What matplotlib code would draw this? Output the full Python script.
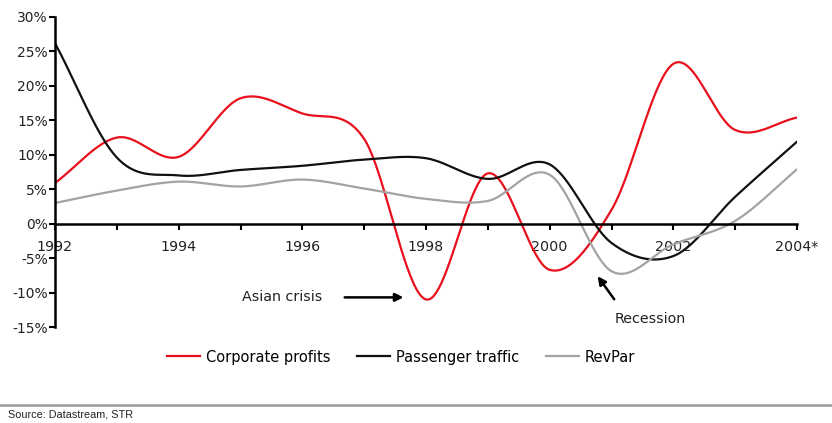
import numpy as np
import matplotlib.pyplot as plt

years = [1992, 1993, 1994, 1995, 1996, 1997, 1998, 1999, 2000, 2001, 2002, 2003, 2004]
corporate_profits = [5.9, 12.5, 9.7, 18.2, 16.0, 12.3, -11.0, 7.3, -6.7, 2.0, 23.2, 13.6, 15.4]
passenger_traffic = [26.2, 9.6, 7.0, 7.8, 8.4, 9.3, 9.5, 6.5, 8.6, -2.8, -4.7, 3.9, 11.9]
revpar = [3.0, 4.8, 6.1, 5.4, 6.4, 5.1, 3.6, 3.3, 7.1, -6.9, -3.0, 0.4, 7.9]

xticks = [1992, 1994, 1996, 1998, 2000, 2002, 2004]
xticklabels = ['1992', '1994', '1996', '1998', '2000', '2002', '2004*']
yticks = [-15, -10, -5, 0, 5, 10, 15, 20, 25, 30]


def smooth(x, y, n=40):
    # Catmull-Rom style smoothing, like a "smoothed line" in a spreadsheet chart
    x = np.asarray(x, float)
    y = np.asarray(y, float)
    m = np.gradient(y, x)
    m[1:-1] = (y[2:] - y[:-2]) / (x[2:] - x[:-2])
    xs, ys = [], []
    for i in range(len(x) - 1):
        h = x[i + 1] - x[i]
        t = np.linspace(0, 1, n, endpoint=False)
        h00 = 2 * t**3 - 3 * t**2 + 1
        h10 = t**3 - 2 * t**2 + t
        h01 = -2 * t**3 + 3 * t**2
        h11 = t**3 - t**2
        xs.append(x[i] + t * h)
        ys.append(h00 * y[i] + h10 * h * m[i] + h01 * y[i + 1] + h11 * h * m[i + 1])
    xs.append([x[-1]])
    ys.append([y[-1]])
    return np.concatenate(xs), np.concatenate(ys)


fig = plt.figure(figsize=(8.32, 4.23), dpi=100)
ax = fig.add_axes([55 / 832, 1 - 327 / 423, 742 / 832, 310 / 423])

for vals, col, lab in [(corporate_profits, '#e8101c', 'Corporate profits'),
                       (passenger_traffic, '#111111', 'Passenger traffic'),
                       (revpar, '#a3a3a3', 'RevPar')]:
    sx, sy = smooth(years, vals)
    ax.plot(sx, sy, color=col, lw=1.6, label=lab)

ax.set_xlim(1992, 2004)
ax.set_ylim(-15, 30)
ax.spines['top'].set_visible(False)
ax.spines['right'].set_visible(False)
ax.spines['bottom'].set_position(('data', 0))
ax.spines['left'].set_linewidth(1.8)
ax.spines['bottom'].set_linewidth(1.8)

ax.set_yticks(yticks)
ax.set_yticklabels(['{}%'.format(v) for v in yticks], fontsize=10, color='#222222')
ax.set_xticks(xticks)
ax.set_xticklabels(xticklabels, fontsize=10.3, color='#222222')
ax.set_xticks(range(1992, 2005), minor=True)
ax.tick_params(axis='y', direction='out', length=4, width=1.5, pad=1)
ax.tick_params(axis='x', which='both', direction='out', length=4, width=1.5, pad=8)

ax.annotate('', xy=(1997.68, -10.7), xytext=(1996.64, -10.7),
            arrowprops=dict(arrowstyle='-|>', color='black', lw=1.8, mutation_scale=12))
ax.text(1996.32, -10.7, 'Asian crisis', fontsize=10.3, ha='right', va='center', color='#222222')
ax.annotate('', xy=(2000.75, -7.3), xytext=(2001.07, -11.3),
            arrowprops=dict(arrowstyle='-|>', color='black', lw=1.8, mutation_scale=12))
ax.text(2001.62, -13.8, 'Recession', fontsize=10.3, ha='center', va='center', color='#222222')

fig.legend(loc='center', bbox_to_anchor=(0.482, 1 - 357 / 423), ncol=3, frameon=False,
           fontsize=10.5, handlelength=2.3, columnspacing=1.8, handletextpad=0.4)

fig.add_artist(plt.Line2D([0, 1], [1 - 405 / 423] * 2, color='#9a9a9a', lw=1.8,
                          transform=fig.transFigure))
fig.text(8 / 832, 1 - 414 / 423, 'Source: Datastream, STR', fontsize=7.8,
         family='Liberation Sans', va='center', color='#222222')

plt.savefig('out.png', dpi=100)
